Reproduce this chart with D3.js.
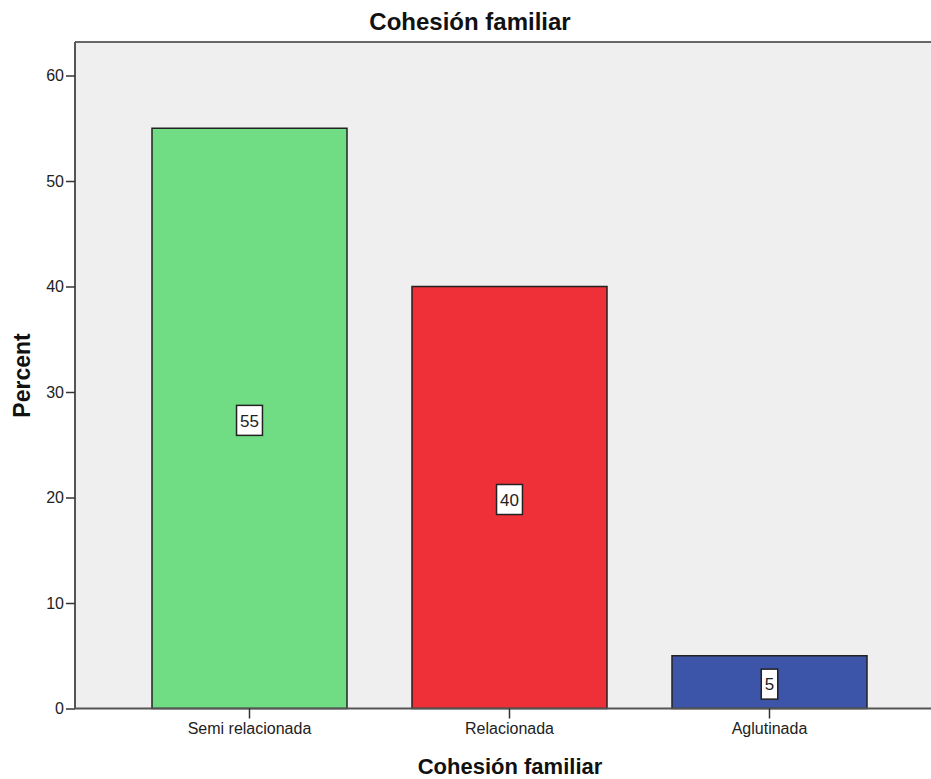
<!DOCTYPE html>
<html><head><meta charset="utf-8">
<script src="https://cdn.jsdelivr.net/npm/d3@7"></script>
<style>body{margin:0;background:#fff;}svg{display:block;font-family:"Liberation Sans",Arial,sans-serif;}</style>
</head><body><svg id="c" width="931" height="779"></svg>
<script>
const categories = ["Semi relacionada","Relacionada","Aglutinada"];
const values = [55, 40, 5];
const colors = ["#70dd84","#ef3039","#3d55a8"];
const yTicks = [0,10,20,30,40,50,60];
const title = "Cohesión familiar";
const xTitle = "Cohesión familiar";
const yTitle = "Percent";

const svg = d3.select("#c");
const plotL = 75, plotT = 42, plotR = 945, plotB = 708.5;
const y = d3.scaleLinear().domain([0,60]).range([708.5, 75.5]);
const x = d3.scaleBand().domain(categories).range([119.5, 899.5]).paddingInner(0.25).paddingOuter(0.125);

svg.append("rect").attr("x",plotL).attr("y",plotT).attr("width",plotR-plotL).attr("height",plotB-plotT).attr("fill","#efefef");
svg.append("line").attr("x1",plotL).attr("x2",plotR).attr("y1",plotT).attr("y2",plotT).attr("stroke","#666").attr("stroke-width",2);

svg.selectAll("rect.bar").data(values).enter().append("rect").attr("class","bar")
  .attr("x",(d,i)=>x(categories[i])).attr("width",x.bandwidth())
  .attr("y",d=>y(d)).attr("height",d=>y(0)-y(d))
  .attr("fill",(d,i)=>colors[i]).attr("stroke","#222").attr("stroke-width",1.5);

// y axis
const ya = svg.append("g").attr("transform",`translate(${plotL},0)`)
  .call(d3.axisLeft(y).tickValues(yTicks).tickSize(9).tickPadding(2).tickFormat(d3.format("d")));
ya.select(".domain").attr("stroke","#555").attr("stroke-width",2).attr("d",`M0,${plotT}V${plotB}`);
ya.selectAll(".tick line").attr("stroke","#333").attr("stroke-width",1.5);
ya.selectAll(".tick text").attr("font-size",16).attr("fill","#222").attr("font-family","Liberation Sans, Arial");

// x axis
const xa = svg.append("g").attr("transform",`translate(0,${plotB})`)
  .call(d3.axisBottom(x).tickSize(10).tickPadding(4));
xa.select(".domain").attr("stroke","#555").attr("stroke-width",2).attr("d",`M${plotL},0H${plotR}`);
xa.selectAll(".tick line").attr("stroke","#333").attr("stroke-width",1.5);
xa.selectAll(".tick text").attr("font-size",16).attr("fill","#222").attr("font-family","Liberation Sans, Arial");

// value labels
const lab = svg.selectAll("g.lab").data(values).enter().append("g").attr("class","lab")
  .attr("transform",(d,i)=>`translate(${x(categories[i])+x.bandwidth()/2},${y(d/2)+2})`);
lab.each(function(d){
  const g = d3.select(this);
  const t = g.append("text").text(d).attr("text-anchor","middle").attr("dy","0.36em").attr("font-size",17).attr("fill","#222");
  const w = t.node().getComputedTextLength()+7;
  g.insert("rect","text").attr("x",-w/2).attr("y",-15).attr("width",w).attr("height",30).attr("fill","#fff").attr("stroke","#222").attr("stroke-width",1.5);
});

svg.append("text").attr("x",470).attr("y",30).attr("text-anchor","middle").attr("font-size",24).attr("font-weight","bold").attr("fill","#111").text(title);
svg.append("text").attr("x",510).attr("y",774).attr("text-anchor","middle").attr("font-size",22).attr("font-weight","bold").attr("fill","#111").text(xTitle);
svg.append("text").attr("transform","translate(30,375.5) rotate(-90)").attr("text-anchor","middle").attr("font-size",23).attr("font-weight","bold").attr("fill","#111").text(yTitle);
</script></body></html>
